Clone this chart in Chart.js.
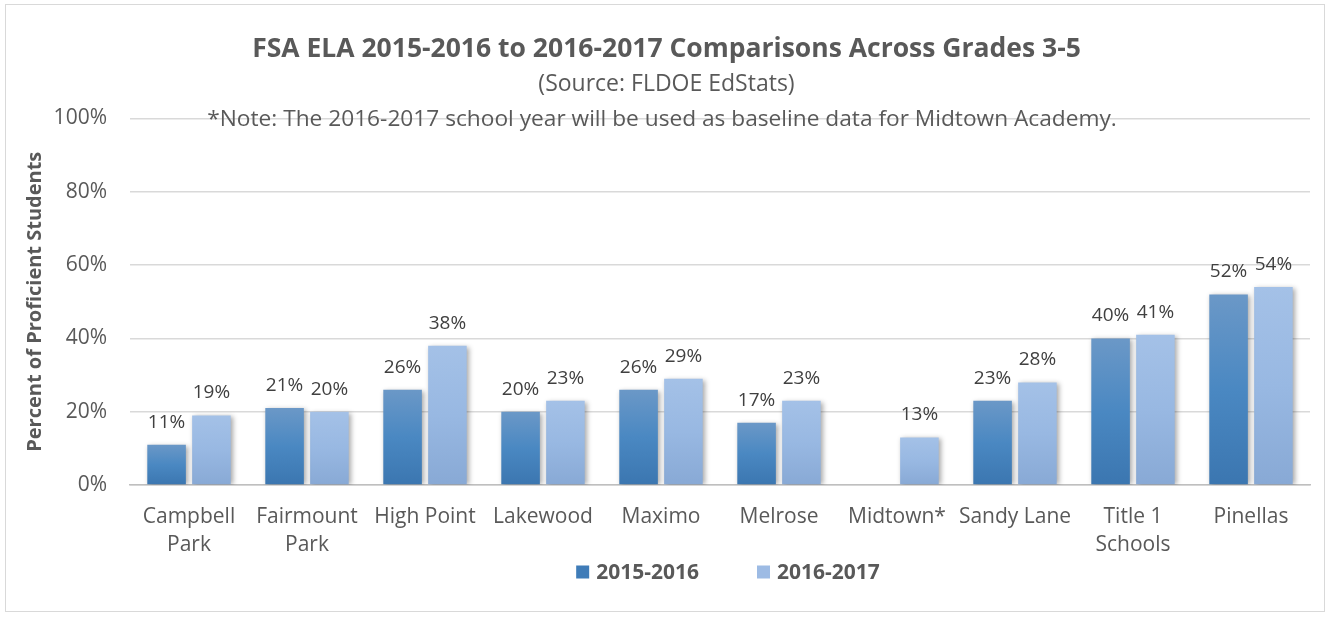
<!DOCTYPE html>
<html>
<head>
<meta charset="utf-8">
<script src="https://cdn.jsdelivr.net/npm/chart.js@4/dist/chart.umd.min.js"></script>
<style>
  html, body { margin: 0; padding: 0; background: #fff; }
  #wrap {
    position: absolute; left: 5px; top: 4px;
    width: 1318px; height: 606px;
    border: 1px solid #d9d9d9;
  }
</style>
</head>
<body>
<div id="wrap"><canvas id="chart"></canvas></div>
<script>
  // ---------------------------------------------------------------------------
  // DATA
  // ---------------------------------------------------------------------------

  const TITLE = 'FSA ELA 2015-2016 to 2016-2017 Comparisons Across Grades 3-5'
  const SUBTITLE = '(Source: FLDOE EdStats)'
  const NOTE = '*Note: The 2016-2017 school year will be used as baseline data for Midtown Academy.'
  const Y_TITLE = 'Percent of Proficient Students'

  const schools = [
    ['Campbell', 'Park'], ['Fairmount', 'Park'], 'High Point', 'Lakewood', 'Maximo',
    'Melrose', 'Midtown*', 'Sandy Lane', ['Title 1', 'Schools'], 'Pinellas'
  ]
  const seriesNames = ['2015-2016', '2016-2017']
  const values1516 = [11, 21, 26, 20, 26, 17, null, 23, 40, 52]
  const values1617 = [19, 20, 38, 23, 29, 23, 13, 28, 41, 54]
  const yTicks = [0, 20, 40, 60, 80, 100]

  // ---------------------------------------------------------------------------
  // STYLE
  // ---------------------------------------------------------------------------

  const FONT = '"Open Sans", "Liberation Sans", sans-serif'
  const TEXT = '#595959'
  const GRADS = [
    ['#6b98c7', '#4a88c2', '#3b76b0'],
    ['#a4c1e7', '#98b8e2', '#88a9d5']
  ]
  const LEGEND_SWATCH = ['#3f7cb8', '#9dbbe4']

  function barGradient(ctx, idx) {
    const chart = ctx.chart
    const y = chart.scales && chart.scales.y
    const v = ctx.raw
    if (!y || v == null || !chart.chartArea) return GRADS[idx][1]
    const top = y.getPixelForValue(v)
    const bottom = y.getPixelForValue(0)
    if (!isFinite(top) || !isFinite(bottom) || bottom - top < 1) return GRADS[idx][1]
    const g = chart.ctx.createLinearGradient(0, top, 0, bottom)
    g.addColorStop(0, GRADS[idx][0])
    g.addColorStop(0.5, GRADS[idx][1])
    g.addColorStop(1, GRADS[idx][2])
    return g
  }

  // ---------------------------------------------------------------------------
  // PLUGINS
  // ---------------------------------------------------------------------------

  const barShadow = {
    id: 'barShadow',
    beforeDatasetsDraw(chart) {
      const c = chart.ctx
      c.save()
      c.shadowColor = 'rgba(0,0,0,0.35)'
      c.shadowBlur = 5
      c.shadowOffsetX = 2
      c.shadowOffsetY = 1
    },
    afterDatasetsDraw(chart) {
      chart.ctx.restore()
    }
  }

  const valueLabels = {
    id: 'valueLabels',
    afterDatasetsDraw(chart) {
      const c = chart.ctx
      c.save()
      c.font = '19px ' + FONT
      c.fillStyle = '#404040'
      c.textAlign = 'center'
      c.textBaseline = 'bottom'
      chart.data.datasets.forEach((ds, di) => {
        const meta = chart.getDatasetMeta(di)
        meta.data.forEach((bar, i) => {
          const v = ds.data[i]
          if (v == null) return
          c.fillText(v + '%', bar.x, bar.y - 13)
        })
      })
      c.restore()
    }
  }

  const noteAndLegend = {
    id: 'noteAndLegend',
    afterDraw(chart) {
      const c = chart.ctx
      const area = chart.chartArea
      c.save()
      // note line sitting on the 100% gridline
      c.font = '22.7px ' + FONT
      c.fillStyle = TEXT
      c.textAlign = 'center'
      c.textBaseline = 'middle'
      c.fillText(NOTE, chart.width / 2 - 3, area.top + 1)

      // legend
      c.font = 'bold 21px ' + FONT
      c.textAlign = 'left'
      const box = 13, gap = 7, spacing = 58
      const widths = seriesNames.map(n => box + gap + c.measureText(n).width)
      const total = widths.reduce((a, b) => a + b, 0) + spacing * (widths.length - 1)
      let x = (area.left + area.right) / 2 - total / 2 + 8
      const y = chart.height - 39
      seriesNames.forEach((name, i) => {
        c.fillStyle = LEGEND_SWATCH[i]
        c.fillRect(x, y - box / 2, box, box)
        c.fillStyle = TEXT
        c.fillText(name, x + box + gap, y + 1)
        x += widths[i] + spacing
      })
      c.restore()
    }
  }

  // ---------------------------------------------------------------------------
  // CHART
  // ---------------------------------------------------------------------------

  new Chart(document.getElementById('chart'), {
    type: 'bar',
    data: {
      labels: schools,
      datasets: [
        {
          label: seriesNames[0],
          data: values1516,
          backgroundColor: ctx => barGradient(ctx, 0),
          categoryPercentage: 0.76,
          barPercentage: 0.86
        },
        {
          label: seriesNames[1],
          data: values1617,
          backgroundColor: ctx => barGradient(ctx, 1),
          categoryPercentage: 0.76,
          barPercentage: 0.86
        }
      ]
    },
    options: {
      responsive: true,
      maintainAspectRatio: false,
      animation: false,
      layout: { padding: { left: 17, right: 14, top: 0, bottom: 34 } },
      plugins: {
        legend: { display: false },
        tooltip: { enabled: false },
        title: {
          display: true,
          text: TITLE,
          color: TEXT,
          font: { family: FONT, size: 26.5, weight: 'bold' },
          padding: { top: 29, bottom: 3 }
        },
        subtitle: {
          display: true,
          text: SUBTITLE,
          color: TEXT,
          font: { family: FONT, size: 23 },
          padding: { top: 2, bottom: 20 }
        }
      },
      scales: {
        x: {
          grid: { display: false, drawTicks: false },
          border: { color: '#bfbfbf', width: 1.5 },
          ticks: {
            color: TEXT,
            font: { family: FONT, size: 21, lineHeight: 1.38 },
            padding: 17,
            maxRotation: 0,
            autoSkip: false
          }
        },
        y: {
          min: 0,
          max: 100,
          afterBuildTicks: axis => { axis.ticks = yTicks.map(v => ({ value: v })) },
          afterFit: axis => { axis.width = 107 },
          grid: { color: '#d9d9d9', lineWidth: 1.5, drawTicks: false },
          border: { display: false },
          ticks: {
            color: TEXT,
            font: { family: FONT, size: 21 },
            padding: 23,
            callback: v => v + '%'
          },
          title: {
            display: true,
            text: Y_TITLE,
            color: TEXT,
            font: { family: FONT, size: 20, weight: 'bold' },
            padding: { top: 0, bottom: 8 }
          }
        }
      }
    },
    plugins: [barShadow, valueLabels, noteAndLegend]
  })
</script>
</body>
</html>
